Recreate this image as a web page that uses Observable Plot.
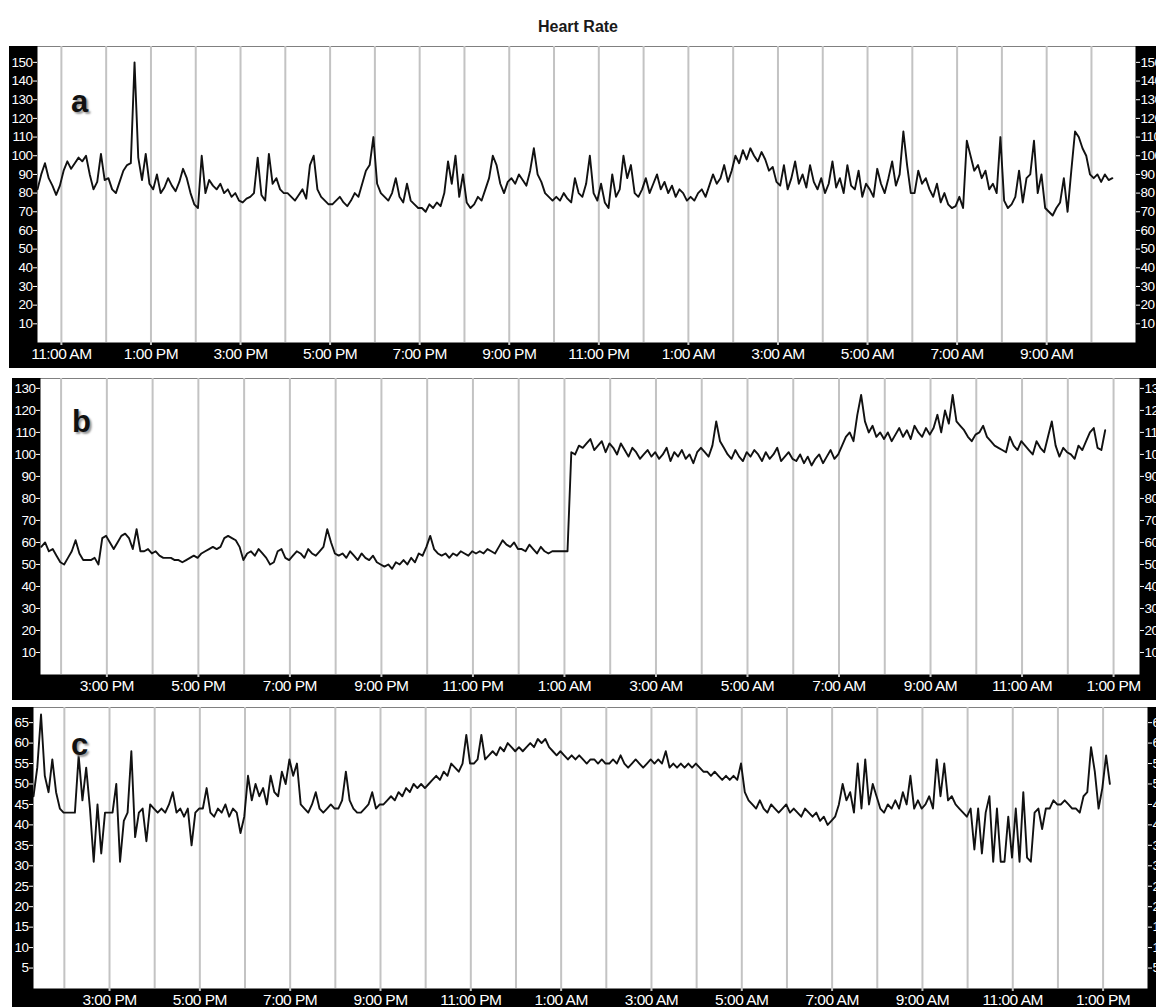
<!DOCTYPE html>
<html><head><meta charset="utf-8">
<script src="https://cdn.jsdelivr.net/npm/d3@7"></script>
<script src="https://cdn.jsdelivr.net/npm/@observablehq/plot@0.6"></script>
<style>
html,body{margin:0;padding:0;background:#fff;overflow:hidden;}
#wrap{position:relative;width:1156px;height:1007px;overflow:hidden;}
.panel{position:absolute;}
.panel svg{overflow:hidden;display:block;}
.panel svg text{letter-spacing:-0.5px;}
.panel svg g[aria-label="y-axis tick label"]{font-size:13.5px !important;}
.panel svg g[aria-label="x-axis tick label"]{font-size:15.5px !important;letter-spacing:-0.7px;}
.title{position:absolute;left:0;top:19px;width:1156px;text-align:center;font:bold 16px/16px "Liberation Sans",Arial,sans-serif;color:#1a1a1a;}
.letter{position:absolute;font:bold 31px/31px "Liberation Sans",Arial,sans-serif;color:#111;text-shadow:2px 2px 2px #999;}
</style></head>
<body>
<div id="wrap">
  <div class="title">Heart Rate</div>
  <div class="panel" id="pa" style="left:9px;top:46px"></div>
  <div class="panel" id="pb" style="left:12px;top:378px"></div>
  <div class="panel" id="pc" style="left:12px;top:707px"></div>
  <div class="letter" style="left:71px;top:86px">a</div>
  <div class="letter" style="left:72px;top:406px">b</div>
  <div class="letter" style="left:71px;top:729px">c</div>
</div>
<script>
// ---- data (5-minute samples) ----
const stepMinutes = 5;

const startA = Date.UTC(2020, 0, 1, 10, 28);
const domainA = [Date.UTC(2020, 0, 1, 10, 28), Date.UTC(2020, 0, 2, 10, 59)];
const heartA = [
  82, 90, 96, 88, 84, 79, 84,
  92, 97, 93, 96, 99, 97, 100, 90, 82, 86, 101, 87,
  88, 82, 80, 86, 92, 95, 96, 150, 99, 87, 101, 85,
  82, 90, 80, 83, 88, 84, 81, 86, 93, 88, 80, 74,
  72, 100, 80, 87, 84, 82, 85, 80, 82, 78, 80, 76,
  75, 77, 78, 80, 99, 79, 76, 101, 85, 88, 82, 80,
  80, 78, 76, 79, 82, 77, 95, 100, 82, 78, 76, 74,
  74, 76, 78, 75, 73, 76, 80, 78, 85, 92, 95, 110,
  85, 80, 78, 76, 80, 88, 78, 75, 85, 76, 74, 72,
  72, 70, 74, 72, 75, 73, 80, 97, 85, 100, 78, 90,
  75, 72, 74, 78, 76, 82, 88, 100, 95, 85, 80, 86,
  88, 85, 90, 87, 84, 92, 104, 90, 86, 80, 78, 76,
  78, 76, 80, 77, 75, 88, 80, 78, 85, 100, 80, 76,
  85, 75, 72, 90, 78, 82, 100, 88, 95, 80, 78, 82,
  88, 80, 85, 90, 82, 86, 80, 84, 78, 82, 80, 76,
  78, 76, 80, 82, 78, 84, 90, 85, 88, 95, 86, 92,
  100, 96, 103, 98, 104, 100, 97, 102, 98, 92, 94, 86,
  84, 95, 82, 88, 97, 85, 90, 83, 95, 86, 82, 88,
  80, 85, 97, 83, 88, 80, 95, 84, 82, 92, 78, 85,
  82, 78, 93, 85, 80, 88, 97, 84, 90, 113, 95, 80,
  80, 92, 85, 88, 82, 78, 85, 75, 80, 74, 72, 73,
  78, 72, 108, 100, 92, 95, 88, 92, 82, 85, 80, 110,
  76, 72, 74, 78, 92, 75, 88, 90, 108, 80, 90, 72,
  70, 68, 72, 75, 88, 70, 92, 113, 110, 104, 100, 90,
  88, 90, 86, 90, 87, 88
];

const startB = Date.UTC(2020, 0, 1, 13, 34);
const domainB = [Date.UTC(2020, 0, 1, 13, 33), Date.UTC(2020, 0, 2, 13, 34)];
const heartB = [
  58, 60, 56, 57, 54, 51,
  50, 53, 56, 61, 55, 52, 52, 52, 53, 50, 62, 63,
  60, 57, 60, 63, 64, 62, 57, 66, 56, 56, 57, 55,
  56, 54, 53, 53, 53, 52, 52, 51, 52, 53, 54, 53,
  55, 56, 57, 58, 57, 58, 62, 63, 62, 61, 58, 52,
  55, 56, 54, 57, 55, 53, 50, 51, 56, 57, 53, 52,
  54, 56, 55, 53, 57, 55, 54, 56, 58, 66, 60, 55,
  54, 55, 53, 56, 54, 52, 55, 53, 52, 54, 51, 50,
  49, 50, 48, 51, 50, 52, 50, 53, 51, 55, 54, 58,
  63, 57, 55, 54, 55, 53, 55, 54, 56, 55, 54, 56,
  55, 56, 55, 57, 56, 55, 58, 61, 59, 58, 60, 57,
  57, 56, 59, 57, 55, 58, 56, 55, 56, 56, 56, 56,
  56, 101, 100, 104, 103, 105, 107, 102, 104, 106, 101, 105,
  103, 100, 105, 102, 99, 103, 101, 98, 100, 102, 99, 101,
  98, 100, 103, 97, 101, 99, 102, 98, 100, 96, 101, 103,
  101, 99, 104, 115, 106, 103, 100, 98, 102, 99, 97, 101,
  99, 102, 100, 97, 101, 98, 100, 103, 97, 99, 101, 98,
  97, 100, 96, 99, 95, 98, 100, 96, 99, 102, 98, 100,
  104, 108, 110, 106, 118, 127, 115, 110, 113, 108, 110, 107,
  110, 106, 109, 112, 108, 111, 107, 113, 110, 108, 112, 109,
  112, 118, 110, 120, 114, 127, 115, 113, 111, 108, 106, 109,
  110, 113, 108, 106, 104, 103, 102, 101, 108, 104, 102, 106,
  104, 102, 100, 106, 103, 101, 108, 115, 104, 99, 103, 101,
  100, 98, 104, 102, 106, 110, 112, 103, 102, 111
];

const startC = Date.UTC(2020, 0, 1, 13, 19);
const domainC = [Date.UTC(2020, 0, 1, 13, 19), Date.UTC(2020, 0, 2, 13, 59)];
const heartC = [
  47, 54, 67, 52, 48, 56, 48, 44, 43,
  43, 43, 43, 57, 46, 54, 44, 31, 45, 33, 43, 43,
  43, 50, 31, 41, 43, 58, 37, 43, 44, 36, 45, 44,
  43, 44, 43, 45, 48, 43, 44, 42, 44, 35, 43, 44,
  44, 49, 43, 42, 44, 43, 45, 42, 44, 43, 38, 42,
  52, 46, 50, 47, 49, 45, 52, 48, 47, 53, 50, 56,
  52, 55, 45, 44, 43, 45, 48, 44, 43, 44, 45, 44,
  44, 46, 53, 46, 44, 43, 43, 44, 45, 48, 44, 45,
  45, 46, 47, 46, 48, 47, 49, 48, 50, 49, 50, 49,
  50, 51, 52, 51, 53, 52, 55, 54, 53, 55, 62, 55,
  55, 56, 62, 56, 57, 58, 57, 59, 58, 60, 59, 58,
  59, 58, 59, 60, 59, 61, 60, 61, 59, 58, 57, 58,
  57, 56, 57, 56, 57, 56, 55, 56, 56, 55, 56, 55,
  55, 56, 55, 57, 55, 54, 55, 56, 55, 54, 55, 56,
  55, 56, 55, 58, 54, 55, 54, 55, 54, 55, 54, 55,
  54, 53, 53, 52, 53, 52, 51, 52, 51, 52, 51, 55,
  48, 46, 45, 44, 46, 44, 43, 45, 44, 43, 44, 45,
  43, 44, 43, 42, 44, 43, 42, 43, 41, 42, 40, 41,
  42, 45, 50, 46, 48, 43, 55, 44, 56, 45, 50, 47,
  44, 43, 45, 44, 46, 44, 48, 45, 52, 44, 46, 44,
  45, 47, 44, 56, 47, 55, 46, 47, 45, 44, 43, 42,
  44, 34, 44, 33, 43, 47, 31, 44, 31, 31, 42, 32,
  44, 31, 48, 32, 31, 43, 44, 39, 44, 44, 46, 45,
  45, 46, 45, 44, 44, 43, 47, 48, 59, 53, 44, 49,
  57, 50
];

const yTicksA = [10, 20, 30, 40, 50, 60, 70, 80, 90, 100, 110, 120, 130, 140, 150];
const yTicksB = [10, 20, 30, 40, 50, 60, 70, 80, 90, 100, 110, 120, 130];
const yTicksC = [5, 10, 15, 20, 25, 30, 35, 40, 45, 50, 55, 60, 65];
const yMaxA = 158.5, yMaxB = 134.5, yMaxC = 68.7;

// ---- drawing ----
const FONT = '"Liberation Sans", Arial, sans-serif';
const fmt = d3.utcFormat("%-I:%M %p");

function series(start, values) {
  return values.map((v, i) => ({t: new Date(start + i * stepMinutes * 60000), v}));
}

function panel({values, start, domain, yMax, yTicks, width, height, mL, mR, mB}) {
  const dom = domain.map(d => new Date(d));
  const hours = d3.utcHour.range(dom[0], dom[1]);
  const labelled = hours.filter(h => h.getUTCHours() % 2 === 1);
  return Plot.plot({
    width, height,
    marginLeft: mL, marginRight: mR, marginTop: 0, marginBottom: mB,
    style: {background: "black", color: "white", fontFamily: FONT, fontSize: "13px", overflow: "hidden"},
    x: {type: "utc", domain: dom, label: null},
    y: {domain: [0, yMax], label: null},
    marks: [
      Plot.frame({fill: "white", stroke: "none"}),
      Plot.ruleX(hours, {stroke: "#c3c3c3", strokeWidth: 2}),
      Plot.line(series(start, values), {x: "t", y: "v", stroke: "#111", strokeWidth: 1.9}),
      Plot.axisX(labelled, {tickSize: 3, tickPadding: 2, stroke: "#c3c3c3", strokeWidth: 2, fill: "white",
        tickFormat: fmt, fontSize: 15.5, label: null}),
      Plot.axisY(yTicks, {anchor: "left", tickSize: 4, tickPadding: 1, color: "white", fontSize: 13.5, label: null}),
      Plot.axisY(yTicks, {anchor: "right", tickSize: 4, tickPadding: 1, color: "white", fontSize: 13.5, label: null})
    ]
  });
}

document.getElementById("pa").append(panel({values: heartA, start: startA, domain: domainA, yMax: yMaxA, yTicks: yTicksA,
  width: 1147, height: 322, mL: 28, mR: 21, mB: 26}));
document.getElementById("pb").append(panel({values: heartB, start: startB, domain: domainB, yMax: yMaxB, yTicks: yTicksB,
  width: 1144, height: 322, mL: 28, mR: 17, mB: 26}));
document.getElementById("pc").append(panel({values: heartC, start: startC, domain: domainC, yMax: yMaxC, yTicks: yTicksC,
  width: 1144, height: 300, mL: 21, mR: 9, mB: 19}));
</script>
</body></html>
